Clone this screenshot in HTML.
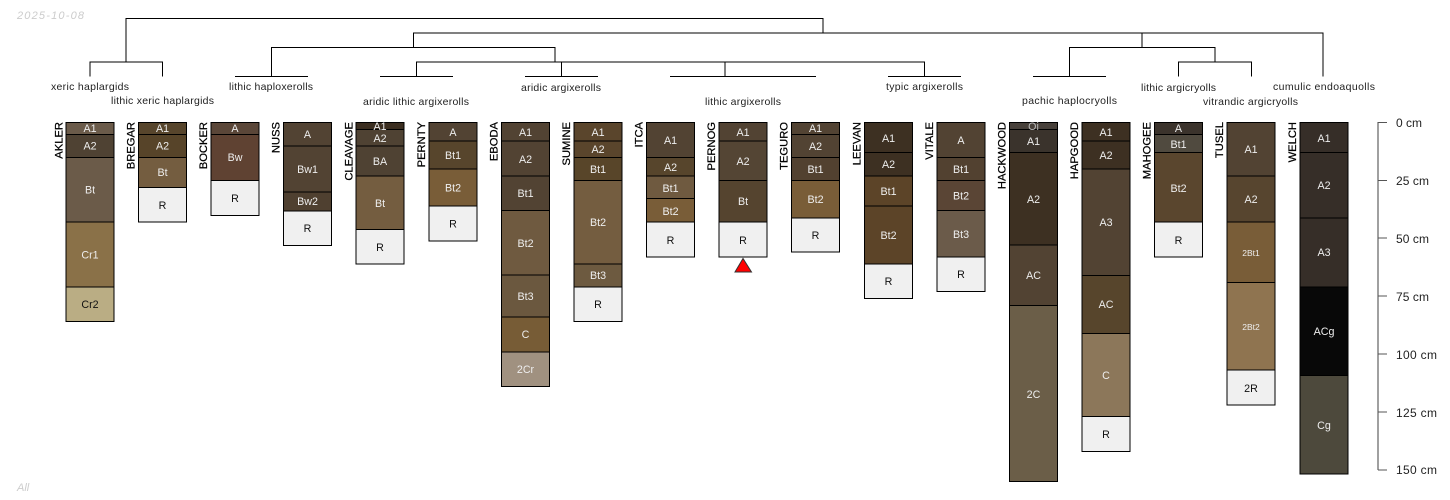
<!DOCTYPE html>
<html><head><meta charset="utf-8"><title>Soil profiles</title>
<style>
html,body{margin:0;padding:0;background:#fff}
svg{display:block}
text{font-family:"Liberation Sans",sans-serif}
.l text{font-size:10.5px;fill:#222}
.p rect{stroke:#000;stroke-width:1}
.p text{font-size:10.7px;fill:#eee;text-anchor:middle}
.p text.d{fill:#111}
.p text.s{font-size:8.5px}
.n text{font-size:11.2px;fill:#000;stroke:#000;stroke-width:.25;text-anchor:end}
.t text{font-size:12px;fill:#222}
.den path{fill:none;stroke:#000;stroke-width:1}
</style></head><body>
<svg xmlns="http://www.w3.org/2000/svg" width="1450" height="500" viewBox="0 0 1450 500">
<rect width="1450" height="500" fill="#fff"/>
<text x="17" y="19" font-size="11" font-style="italic" fill="#ccc" textLength="67">2025-10-08</text>
<text x="17" y="491" font-size="11" font-style="italic" fill="#ccc">All</text>

<g class="den">
<path d="M126 62V18.5H823V33"/>
<path d="M90 76.5V62H162.500V76.5"/>
<path d="M413.5 47.5V33H1323V76.5M1142 33V47.5"/>
<path d="M271.5 76.5V47.5H555V62"/>
<path d="M235 76.5H308"/>
<path d="M416.5 76.5V62H924.5V76.5M561.5 62V76.5M725 62V76.5"/>
<path d="M380 76.5H453M525 76.5H598M670 76.5H816M888 76.5H961"/>
<path d="M1069.5 76.5V47.5H1215V62M1033 76.5H1106"/>
<path d="M1178.5 76.5V62H1251.5V76.5"/>
</g>

<g class="l">
<text x="51" y="90" textLength="78">xeric haplargids</text>
<text x="111" y="104" textLength="103">lithic xeric haplargids</text>
<text x="229" y="90" textLength="84">lithic haploxerolls</text>
<text x="363" y="105" textLength="106">aridic lithic argixerolls</text>
<text x="521" y="91" textLength="80">aridic argixerolls</text>
<text x="705" y="105" textLength="76">lithic argixerolls</text>
<text x="886" y="90" textLength="77">typic argixerolls</text>
<text x="1022" y="104" textLength="95">pachic haplocryolls</text>
<text x="1141" y="91" textLength="75">lithic argicryolls</text>
<text x="1203" y="105" textLength="95">vitrandic argicryolls</text>
<text x="1273" y="90" textLength="102">cumulic endoaquolls</text>
</g>

<g class="n">
<text transform="translate(62.5,122) rotate(-90)">AKLER</text>
<text transform="translate(134.5,122) rotate(-90)">BREGAR</text>
<text transform="translate(207,122) rotate(-90)">BOCKER</text>
<text transform="translate(279.5,122) rotate(-90)">NUSS</text>
<text transform="translate(352.5,122) rotate(-90)">CLEAVAGE</text>
<text transform="translate(425,122) rotate(-90)">PERNTY</text>
<text transform="translate(497.5,122) rotate(-90)">EBODA</text>
<text transform="translate(570,122) rotate(-90)">SUMINE</text>
<text transform="translate(642.5,122) rotate(-90)">ITCA</text>
<text transform="translate(715,122) rotate(-90)">PERNOG</text>
<text transform="translate(787.5,122) rotate(-90)">TEGURO</text>
<text transform="translate(860.5,122) rotate(-90)">LEEVAN</text>
<text transform="translate(933,122) rotate(-90)">VITALE</text>
<text transform="translate(1005.5,122) rotate(-90)">HACKWOOD</text>
<text transform="translate(1078,122) rotate(-90)">HAPGOOD</text>
<text transform="translate(1150.5,122) rotate(-90)">MAHOGEE</text>
<text transform="translate(1223,122) rotate(-90)">TUSEL</text>
<text transform="translate(1296,122) rotate(-90)">WELCH</text>
</g>

<g class="p" transform="translate(66,0)">
<rect y="122.5" width="48" height="12" fill="#6b5b4a"/><rect y="134.5" width="48" height="23" fill="#4f4233"/><rect y="157.5" width="48" height="64.5" fill="#6b5b49"/><rect y="222" width="48" height="65" fill="#8a7148"/><rect y="287" width="48" height="34.5" fill="#baad84"/>
<text x="24" y="132">A1</text><text x="24" y="149.5">A2</text><text x="24" y="193.5">Bt</text><text x="24" y="258.5">Cr1</text><text x="24" y="308" class="d">Cr2</text>
</g>
<g class="p" transform="translate(138.5,0)">
<rect y="122.5" width="48" height="12" fill="#57452c"/><rect y="134.5" width="48" height="23" fill="#574429"/><rect y="157.5" width="48" height="30" fill="#745d40"/><rect y="187.5" width="48" height="34.5" fill="#f0f0f0"/>
<text x="24" y="132">A1</text><text x="24" y="149.5">A2</text><text x="24" y="176">Bt</text><text x="24" y="209" class="d">R</text>
</g>
<g class="p" transform="translate(211,0)">
<rect y="122.5" width="48" height="12" fill="#5a4638"/><rect y="134.5" width="48" height="46" fill="#5f4232"/><rect y="180.5" width="48" height="35" fill="#f0f0f0"/>
<text x="24" y="132">A</text><text x="24" y="161">Bw</text><text x="24" y="202" class="d">R</text>
</g>
<g class="p" transform="translate(283.5,0)">
<rect y="122.5" width="48" height="23.5" fill="#524333"/><rect y="146" width="48" height="46" fill="#524333"/><rect y="192" width="48" height="19" fill="#4f4030"/><rect y="211" width="48" height="34.5" fill="#f0f0f0"/>
<text x="24" y="138">A</text><text x="24" y="173">Bw1</text><text x="24" y="205">Bw2</text><text x="24" y="232" class="d">R</text>
</g>
<g class="p" transform="translate(356,0)">
<rect y="122.5" width="48" height="7" fill="#3b2e20"/><rect y="129.5" width="48" height="16.5" fill="#4f4233"/><rect y="146" width="48" height="30" fill="#4f4233"/><rect y="176" width="48" height="53.5" fill="#745d40"/><rect y="229.5" width="48" height="34.5" fill="#f0f0f0"/>
<text x="24" y="130">A1</text><text x="24" y="142">A2</text><text x="24" y="165">BA</text><text x="24" y="207">Bt</text><text x="24" y="251" class="d">R</text>
</g>
<g class="p" transform="translate(429,0)">
<rect y="122.5" width="48" height="18.5" fill="#524333"/><rect y="141" width="48" height="28" fill="#57452c"/><rect y="169" width="48" height="37" fill="#795d38"/><rect y="206" width="48" height="35" fill="#f0f0f0"/>
<text x="24" y="136">A</text><text x="24" y="159">Bt1</text><text x="24" y="191.5">Bt2</text><text x="24" y="227.5" class="d">R</text>
</g>
<g class="p" transform="translate(501.5,0)">
<rect y="122.5" width="48" height="18.5" fill="#524333"/><rect y="141" width="48" height="35" fill="#524333"/><rect y="176" width="48" height="34.5" fill="#524333"/><rect y="210.5" width="48" height="64.5" fill="#6f5a40"/><rect y="275" width="48" height="42" fill="#6b583f"/><rect y="317" width="48" height="35" fill="#775c36"/><rect y="352" width="48" height="34.5" fill="#a09180"/>
<text x="24" y="136">A1</text><text x="24" y="163">A2</text><text x="24" y="197">Bt1</text><text x="24" y="247">Bt2</text><text x="24" y="300">Bt3</text><text x="24" y="338">C</text><text x="24" y="373">2Cr</text>
</g>
<g class="p" transform="translate(574,0)">
<rect y="122.5" width="48" height="18.5" fill="#5a452c"/><rect y="141" width="48" height="16.5" fill="#5a452c"/><rect y="157.5" width="48" height="23" fill="#584529"/><rect y="180.5" width="48" height="83.5" fill="#745d40"/><rect y="264" width="48" height="23" fill="#6d5a40"/><rect y="287" width="48" height="34.5" fill="#f0f0f0"/>
<text x="24" y="136">A1</text><text x="24" y="153">A2</text><text x="24" y="173">Bt1</text><text x="24" y="226">Bt2</text><text x="24" y="279">Bt3</text><text x="24" y="308" class="d">R</text>
</g>
<g class="p" transform="translate(646.5,0)">
<rect y="122.5" width="48" height="35" fill="#524333"/><rect y="157.5" width="48" height="18.5" fill="#57452c"/><rect y="176" width="48" height="22.5" fill="#6f5a40"/><rect y="198.5" width="48" height="23.5" fill="#795d38"/><rect y="222" width="48" height="35" fill="#f0f0f0"/>
<text x="24" y="144">A1</text><text x="24" y="171">A2</text><text x="24" y="192">Bt1</text><text x="24" y="215">Bt2</text><text x="24" y="244" class="d">R</text>
</g>
<g class="p" transform="translate(719,0)">
<rect y="122.5" width="48" height="18.5" fill="#524333"/><rect y="141" width="48" height="39.5" fill="#544534"/><rect y="180.5" width="48" height="41.5" fill="#55442f"/><rect y="222" width="48" height="35" fill="#f0f0f0"/>
<text x="24" y="136">A1</text><text x="24" y="165">A2</text><text x="24" y="205">Bt</text><text x="24" y="244" class="d">R</text>
</g>
<polygon points="743,258.500 735,272 751.5,272" fill="#f00" stroke="#333" stroke-width="1"/>
<g class="p" transform="translate(791.5,0)">
<rect y="122.5" width="48" height="12" fill="#524333"/><rect y="134.5" width="48" height="23" fill="#524333"/><rect y="157.5" width="48" height="23" fill="#524130"/><rect y="180.5" width="48" height="37.5" fill="#795d38"/><rect y="218" width="48" height="34" fill="#f0f0f0"/>
<text x="24" y="132">A1</text><text x="24" y="150">A2</text><text x="24" y="173">Bt1</text><text x="24" y="203">Bt2</text><text x="24" y="239" class="d">R</text>
</g>
<g class="p" transform="translate(864.5,0)">
<rect y="122.5" width="48" height="30" fill="#3d3022"/><rect y="152.5" width="48" height="23.5" fill="#3d3022"/><rect y="176" width="48" height="30" fill="#5c4428"/><rect y="206" width="48" height="58" fill="#5c4428"/><rect y="264" width="48" height="34.5" fill="#f0f0f0"/>
<text x="24" y="142">A1</text><text x="24" y="168">A2</text><text x="24" y="195">Bt1</text><text x="24" y="239">Bt2</text><text x="24" y="285" class="d">R</text>
</g>
<g class="p" transform="translate(937,0)">
<rect y="122.5" width="48" height="35" fill="#524333"/><rect y="157.5" width="48" height="23" fill="#524130"/><rect y="180.5" width="48" height="30" fill="#5a4535"/><rect y="210.5" width="48" height="46.5" fill="#6b5b4a"/><rect y="257" width="48" height="34.5" fill="#f0f0f0"/>
<text x="24" y="144">A</text><text x="24" y="173">Bt1</text><text x="24" y="199.5">Bt2</text><text x="24" y="238">Bt3</text><text x="24" y="278" class="d">R</text>
</g>
<g class="p" transform="translate(1009.5,0)">
<rect y="122.5" width="48" height="7" fill="#47403a"/><rect y="129.5" width="48" height="23" fill="#3a332c"/><rect y="152.5" width="48" height="92.5" fill="#3d3022"/><rect y="245" width="48" height="60.5" fill="#524333"/><rect y="305.5" width="48" height="176" fill="#6b5e48"/>
<text x="24" y="130" style="fill:#bbb">Oi</text><text x="24" y="145">A1</text><text x="24" y="203">A2</text><text x="24" y="279">AC</text><text x="24" y="398">2C</text>
</g>
<g class="p" transform="translate(1082,0)">
<rect y="122.5" width="48" height="18.5" fill="#3d3022"/><rect y="141" width="48" height="28" fill="#3d3022"/><rect y="169" width="48" height="106.5" fill="#524333"/><rect y="275.5" width="48" height="58" fill="#57452c"/><rect y="333.5" width="48" height="83" fill="#8c775a"/><rect y="416.5" width="48" height="35" fill="#f0f0f0"/>
<text x="24" y="136">A1</text><text x="24" y="159">A2</text><text x="24" y="226">A3</text><text x="24" y="308">AC</text><text x="24" y="379">C</text><text x="24" y="438" class="d">R</text>
</g>
<g class="p" transform="translate(1154.5,0)">
<rect y="122.5" width="48" height="12" fill="#3b332c"/><rect y="134.5" width="48" height="18" fill="#504a3f"/><rect y="152.5" width="48" height="69.5" fill="#5a462e"/><rect y="222" width="48" height="35" fill="#f0f0f0"/>
<text x="24" y="132">A</text><text x="24" y="148">Bt1</text><text x="24" y="192">Bt2</text><text x="24" y="244" class="d">R</text>
</g>
<g class="p" transform="translate(1227,0)">
<rect y="122.5" width="48" height="53.5" fill="#524333"/><rect y="176" width="48" height="46" fill="#57452f"/><rect y="222" width="48" height="60.5" fill="#795d38"/><rect y="282.5" width="48" height="87.5" fill="#8f7450"/><rect y="370" width="48" height="35" fill="#f0f0f0"/>
<text x="24" y="153">A1</text><text x="24" y="203">A2</text><text x="24" y="256" class="s">2Bt1</text><text x="24" y="330" class="s">2Bt2</text><text x="24" y="392" class="d">2R</text>
</g>
<g class="p" transform="translate(1300,0)">
<rect y="122.5" width="48" height="30" fill="#362e28"/><rect y="152.5" width="48" height="65.5" fill="#362e28"/><rect y="218" width="48" height="69" fill="#362e28"/><rect y="287" width="48" height="88.5" fill="#080808"/><rect y="375.5" width="48" height="98.5" fill="#4d493c"/>
<text x="24" y="142">A1</text><text x="24" y="189">A2</text><text x="24" y="256">A3</text><text x="24" y="335">ACg</text><text x="24" y="429">Cg</text>
</g>

<path d="M1378 122V470" fill="none" stroke="#888" stroke-width="1.6"/>
<path d="M1378 122.5H1387M1378 180.500H1387M1378 238H1387M1378 296H1387M1378 354H1387M1378 412H1387M1378 470H1387" fill="none" stroke="#555" stroke-width="1"/>
<g class="t">
<text x="1396" y="127" textLength="26">0 cm</text>
<text x="1396" y="185" textLength="33">25 cm</text>
<text x="1396" y="243" textLength="33">50 cm</text>
<text x="1396" y="301" textLength="33">75 cm</text>
<text x="1396" y="359" textLength="41">100 cm</text>
<text x="1396" y="417" textLength="41">125 cm</text>
<text x="1396" y="474" textLength="41">150 cm</text>
</g>
</svg>
</body></html>
